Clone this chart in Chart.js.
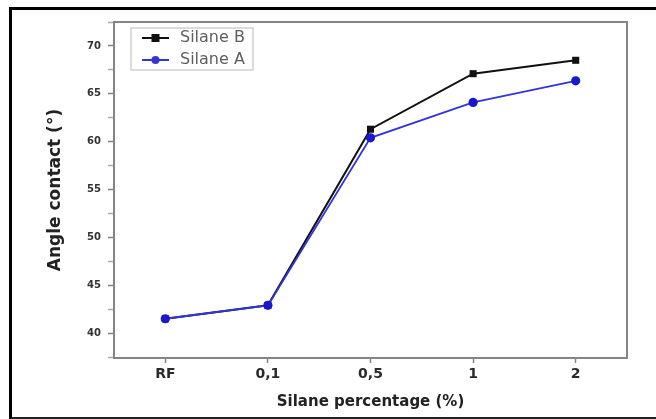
<!DOCTYPE html>
<html>
<head>
<meta charset="utf-8">
<script src="https://cdn.jsdelivr.net/npm/chart.js@4/dist/chart.umd.min.js"></script>
<style>
  html, body { margin: 0; padding: 0; background: #fff; }
  #wrap { position: relative; width: 656px; height: 419px; overflow: hidden; }
  #frame {
    position: absolute; left: 9px; top: 7px; right: -5px; bottom: 0;
    border-top: 3px solid #000; border-left: 3px solid #000; border-bottom: 2px solid #222;
    pointer-events: none;
  }
</style>
</head>
<body>
<div id="wrap">
  <canvas id="graph" width="656" height="419"></canvas>
  <div id="frame"></div>
</div>
<script>
// -------------------------
// DATA
// -------------------------
const categories = ["RF", "0,1", "0,5", "1", "2"];
const silaneB = [41.5, 42.9, 61.3, 67.1, 68.5];
const silaneA = [41.5, 42.9, 60.4, 64.1, 66.35];
const yMin = 37.4;
const yMax = 72.5;
const yStep = 2.5;

const BLUE_LINE = "#3434dc";
const BLUE_POINT = "#1818cc";
const AXIS_GRAY = "#858585";

let chart;

// -------------------------
// LEGEND ICONS (line + marker)
// -------------------------
function makeIcon(color, marker) {
  const c = document.createElement("canvas");
  c.width = 52;
  c.height = 16;
  const g = c.getContext("2d");
  g.strokeStyle = color;
  g.lineWidth = 2;
  g.beginPath();
  g.moveTo(22, 8);
  g.lineTo(49, 8);
  g.stroke();
  g.fillStyle = color;
  if (marker === "rect") {
    g.fillRect(31.5, 4, 8, 8);
  } else {
    g.beginPath();
    g.arc(35.5, 8, 4, 0, Math.PI * 2);
    g.fill();
  }
  return c;
}

// -------------------------
// FRAME + LEGEND BOX PLUGIN
// -------------------------
const framePlugin = {
  id: "frame",
  beforeDraw(c) {
    if (c.legend && c.chartArea) c.legend.top = c.chartArea.top + 2;
  },
  afterDraw(c) {
    const a = c.chartArea;
    const ctx = c.ctx;
    ctx.save();
    ctx.strokeStyle = AXIS_GRAY;
    ctx.lineWidth = 2;
    ctx.beginPath();
    ctx.moveTo(a.left, a.top);
    ctx.lineTo(a.right, a.top);
    ctx.lineTo(a.right, a.bottom);
    ctx.stroke();
    // legend border
    ctx.strokeStyle = "#cfcfcf";
    ctx.lineWidth = 1.5;
    ctx.strokeRect(a.left + 17, a.top + 6, 122, 42);
    ctx.restore();
  }
};

// -------------------------
// INIT CHART
// -------------------------
function initChart() {
  Chart.defaults.font.family = "'DejaVu Sans', sans-serif";
  const ctx = document.getElementById("graph").getContext("2d");

  chart = new Chart(ctx, {
    type: "line",
    data: {
      labels: categories,
      datasets: [{
        label: "Silane B",
        data: silaneB,
        borderColor: "#111",
        backgroundColor: "#111",
        borderWidth: 2,
        pointStyle: "rect",
        pointRadius: 5,
        pointBorderWidth: 0,
        order: 2,
        legendIcon: makeIcon("#111", "rect")
      }, {
        label: "Silane A",
        data: silaneA,
        borderColor: BLUE_LINE,
        backgroundColor: BLUE_POINT,
        borderWidth: 1.8,
        pointStyle: "circle",
        pointRadius: 4.6,
        pointBorderWidth: 0,
        order: 1,
        legendIcon: makeIcon(BLUE_LINE, "circle")
      }]
    },
    options: {
      responsive: false,
      animation: false,
      devicePixelRatio: 1,
      layout: { padding: { left: 0, top: 22, right: 29, bottom: 0 } },
      plugins: {
        tooltip: { enabled: false },
        legend: {
          position: "chartArea",
          align: "start",
          labels: {
            usePointStyle: true,
            pointStyleWidth: 52,
            padding: 6,
            color: "#5e5e5e",
            font: { size: 16 },
            generateLabels(c) {
              return c.data.datasets.map((ds, i) => ({
                text: ds.label,
                pointStyle: ds.legendIcon,
                fontColor: "#5e5e5e",
                lineWidth: 0,
                strokeStyle: "transparent",
                fillStyle: "transparent",
                datasetIndex: i,
                hidden: false
              }));
            }
          }
        }
      },
      scales: {
        x: {
          type: "category",
          offset: true,
          afterFit(s) { s.height = 61; },
          grid: {
            drawOnChartArea: false,
            drawTicks: true,
            tickLength: 5,
            tickColor: AXIS_GRAY,
            tickWidth: 1.5
          },
          border: { display: true, color: AXIS_GRAY, width: 2 },
          ticks: {
            padding: 3,
            color: "#2a2a2a",
            font: { size: 14, weight: "bold" }
          },
          title: {
            display: true,
            text: "Silane percentage (%)",
            color: "#222",
            font: { size: 15, weight: "bold" },
            padding: { top: 0, bottom: 8 }
          }
        },
        y: {
          min: yMin,
          max: yMax,
          afterFit(s) { s.width = 114; },
          grid: {
            drawOnChartArea: false,
            drawTicks: true,
            tickLength: 6,
            tickColor: (c) => (c.tick && c.tick.value % 5 === 0 ? AXIS_GRAY : "#aaa"),
            tickWidth: 1.5
          },
          border: { display: true, color: AXIS_GRAY, width: 2 },
          ticks: {
            stepSize: yStep,
            includeBounds: false,
            autoSkip: false,
            padding: 7,
            color: "#333",
            font: { size: 10, weight: "bold" },
            callback: (v) => (v % 5 === 0 ? v : "")
          },
          title: {
            display: true,
            text: "Angle contact (°)",
            color: "#222",
            font: { size: 17, weight: "bold" },
            padding: { top: 45, bottom: 0 }
          }
        }
      }
    },
    plugins: [framePlugin]
  });
}

// -------------------------
// START
// -------------------------
initChart();
</script>
</body>
</html>
